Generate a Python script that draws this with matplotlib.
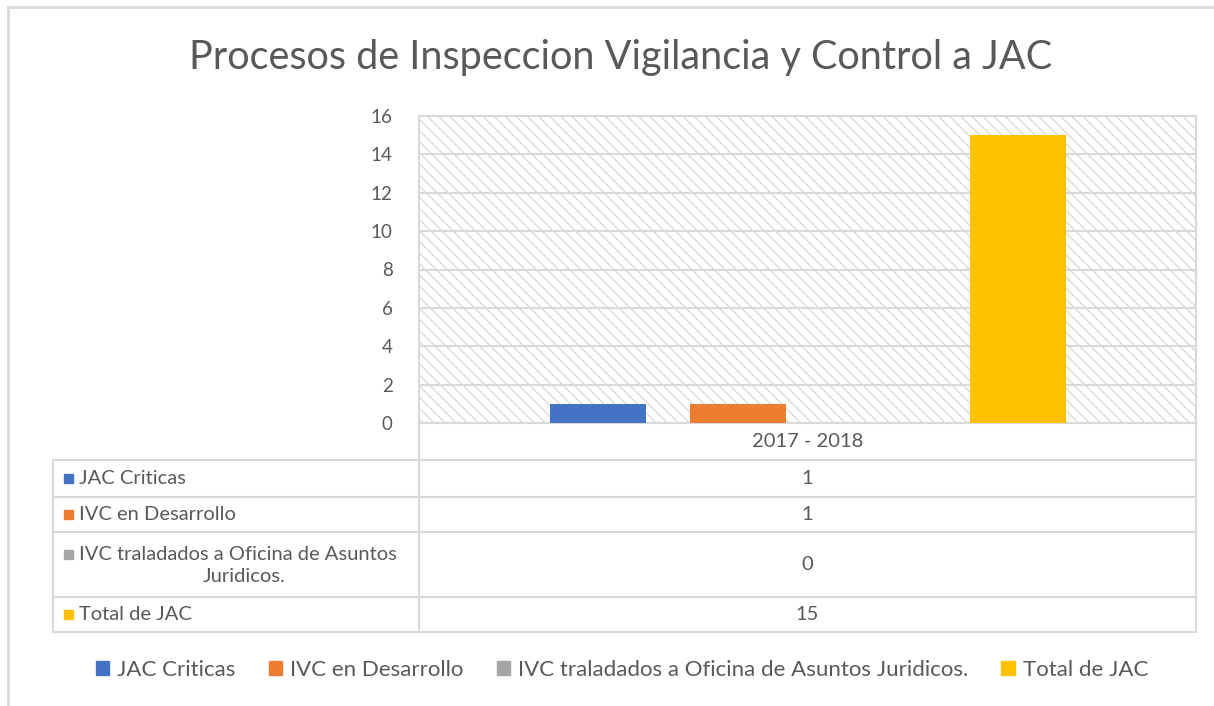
import numpy as np
import matplotlib.pyplot as plt
from matplotlib.patches import Rectangle

plt.rcParams['font.family'] = ['Lato', 'DejaVu Sans']
plt.rcParams['hatch.linewidth'] = 0.8

# Chart data
title = 'Procesos de Inspeccion Vigilancia y Control a JAC'
category = '2017 - 2018'
series_names = ['JAC Criticas', 'IVC en Desarrollo',
                'IVC traladados a Oficina de Asuntos Juridicos.', 'Total de JAC']
table_names = ['JAC Criticas', 'IVC en Desarrollo',
               'IVC traladados a Oficina de Asuntos\nJuridicos.', 'Total de JAC']
values = [1, 1, 0, 15]
colors = ['#4472C4', '#ED7D31', '#A5A5A5', '#FFC000']
yticks = [0, 2, 4, 6, 8, 10, 12, 14, 16]

W, H = 1214, 706
txt = '#595959'
grid = '#d9d9d9'

fig = plt.figure(figsize=(W / 100, H / 100), dpi=100)

# plot area (pixel box: x 419..1196, y 116..423)
px0, px1, py0, py1 = 419, 1196, 116, 423
ax = fig.add_axes([px0 / W, (H - py1) / H, (px1 - px0) / W, (py1 - py0) / H])
ax.set_xlim(0, 1)
ax.set_ylim(0, 16)
ax.add_patch(Rectangle((0, 0), 1, 1, transform=ax.transAxes, facecolor='white',
                       edgecolor='#d3d3d3', hatch='\\' * 3, lw=0, zorder=0))
for t in yticks[1:-1]:
    ax.axhline(t, color=grid, lw=1.5, zorder=1)
spacing = 140 / (px1 - px0)
width = 96 / (px1 - px0)
for i, (v, c) in enumerate(zip(values, colors)):
    ax.bar(0.5 + (i - 1.5) * spacing, v, width=width, color=c, zorder=3)
ax.set_yticks(yticks)
ax.set_xticks([])
ax.tick_params(axis='y', length=0, pad=19, labelsize=13.5, labelcolor=txt)
for s in ax.spines.values():
    s.set_color(grid)
    s.set_linewidth(1.5)

# overlay in pixel coordinates for title, table, legend
ov = fig.add_axes([0, 0, 1, 1], zorder=-1)
ov.set_xlim(0, W)
ov.set_ylim(H, 0)
ov.axis('off')

ov.text(621, 58, title, ha='center', va='center', fontsize=28.5, color=txt)

# chart outer border (top and left edges visible)
ov.plot([8, W], [7, 7], color=grid, lw=2)
ov.plot([8, 8], [7, H], color=grid, lw=2)

# data table
tx0 = 53
rows = [423, 460, 497, 532, 597, 632]
lc = '#d9d9d9'
ov.plot([px0, px0], [rows[0], rows[-1]], color=lc, lw=1.5)
ov.plot([px1, px1], [rows[0], rows[-1]], color=lc, lw=1.5)
ov.plot([tx0, tx0], [rows[1], rows[-1]], color=lc, lw=1.5)
for y in rows[1:]:
    ov.plot([tx0, px1], [y, y], color=lc, lw=1.5)
fs = 14.5
ov.text((px0 + px1) / 2, (rows[0] + rows[1]) / 2, category, ha='center', va='center',
        fontsize=fs, color=txt)
for i, (name, v, c) in enumerate(zip(table_names, values, colors)):
    yc = (rows[i + 1] + rows[i + 2]) / 2
    if '\n' in name:
        first, second = name.split('\n')
        ov.add_patch(Rectangle((64, yc - 15), 9, 9, color=c))
        ov.text(79, yc - 10, first, ha='left', va='center', fontsize=fs, color=txt)
        ov.text(244, yc + 12, second, ha='center', va='center', fontsize=fs, color=txt)
    else:
        ov.add_patch(Rectangle((64, yc - 5), 9, 9, color=c))
        ov.text(79, yc, name, ha='left', va='center', fontsize=fs, color=txt)
    ov.text((px0 + px1) / 2, yc, str(v), ha='center', va='center', fontsize=fs, color=txt)

# legend
handles = [Rectangle((0, 0), 1, 1, color=c) for c in colors]
fig.legend(handles, series_names, loc='center', bbox_to_anchor=(622 / W, 1 - 670 / H),
           ncol=4, frameon=False, fontsize=16, labelcolor=txt, handlelength=0.6,
           handleheight=0.6, handletextpad=0.35, columnspacing=1.5)

fig.savefig('out.png', dpi=100, facecolor='white')
